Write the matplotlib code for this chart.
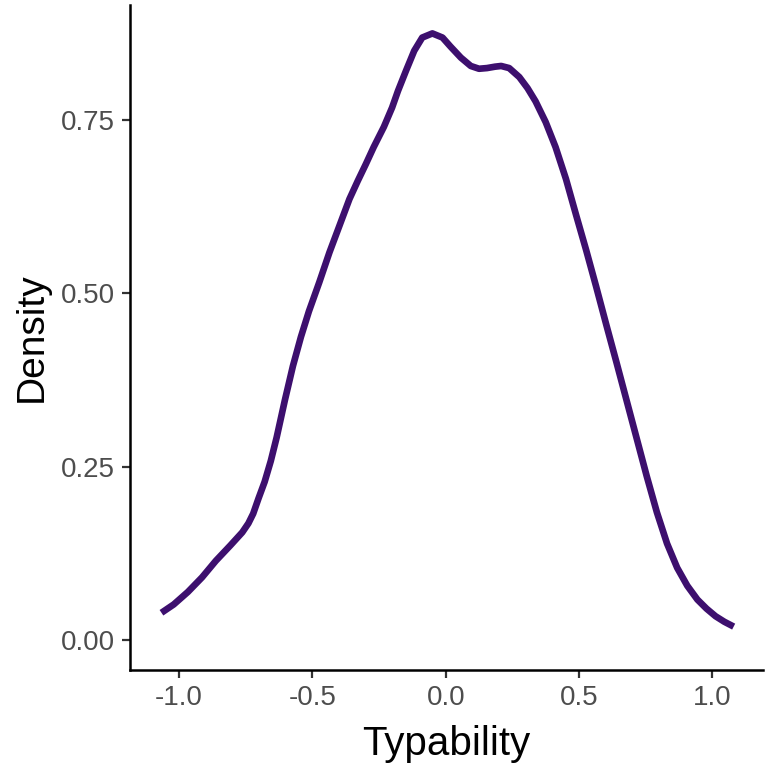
import matplotlib
matplotlib.use("Agg")
import matplotlib.pyplot as plt

plt.rcParams['font.family'] = ['Liberation Sans', 'DejaVu Sans']

# Density curve (Typability vs Density)
typability = [-1.066, -1.020, -0.967, -0.914, -0.862, -0.808, -0.763, -0.740,
              -0.722, -0.702, -0.679, -0.656, -0.634, -0.603, -0.573, -0.543,
              -0.513, -0.474, -0.436, -0.398, -0.361, -0.330, -0.300, -0.270,
              -0.232, -0.201, -0.179, -0.148, -0.118, -0.088, -0.050, -0.012,
              0.018, 0.057, 0.094, 0.125, 0.155, 0.185, 0.208, 0.238,
              0.276, 0.307, 0.337, 0.375, 0.412, 0.451, 0.489, 0.527,
              0.564, 0.602, 0.640, 0.678, 0.716, 0.754, 0.792, 0.830,
              0.868, 0.906, 0.944, 0.978, 1.012, 1.045, 1.080]
density = [0.039, 0.051, 0.069, 0.090, 0.114, 0.136, 0.155, 0.168,
           0.182, 0.204, 0.228, 0.258, 0.292, 0.346, 0.395, 0.437,
           0.474, 0.516, 0.559, 0.598, 0.636, 0.662, 0.686, 0.711,
           0.740, 0.768, 0.792, 0.822, 0.850, 0.869, 0.875, 0.869,
           0.856, 0.840, 0.828, 0.824, 0.825, 0.827, 0.828, 0.825,
           0.812, 0.796, 0.777, 0.747, 0.711, 0.665, 0.613, 0.562,
           0.510, 0.455, 0.401, 0.346, 0.291, 0.236, 0.184, 0.139,
           0.104, 0.078, 0.058, 0.045, 0.034, 0.026, 0.019]

x_ticks = [-1.0, -0.5, 0.0, 0.5, 1.0]
x_tick_labels = ["-1.0", "-0.5", "0.0", "0.5", "1.0"]
y_ticks = [0.00, 0.25, 0.50, 0.75]
y_tick_labels = ["0.00", "0.25", "0.50", "0.75"]

fig = plt.figure(figsize=(7.66, 7.67), dpi=100)
ax = fig.add_axes([130/766, 1 - 670/767, (763-130)/766, (670-5)/767])

ax.plot(typability, density, color='#3D0F6E', lw=4.8, solid_capstyle='butt',
        solid_joinstyle='round')

ax.set_xlim(-1.184, 1.19)
ax.set_ylim(-0.0436, 0.916)
ax.set_xticks(x_ticks)
ax.set_xticklabels(x_tick_labels)
ax.set_yticks(y_ticks)
ax.set_yticklabels(y_tick_labels)

for s in ['top', 'right']:
    ax.spines[s].set_visible(False)
for s in ['left', 'bottom']:
    ax.spines[s].set_linewidth(1.8)
    ax.spines[s].set_color('black')

ax.tick_params(axis='both', length=6, width=1.6, color='#333333',
               labelsize=20, labelcolor='#4D4D4D', pad=5)

ax.set_xlabel('Typability', fontsize=29, color='black', labelpad=10)
ax.set_ylabel('Density', fontsize=28, color='black', labelpad=8)

fig.savefig('out.png', dpi=100)
